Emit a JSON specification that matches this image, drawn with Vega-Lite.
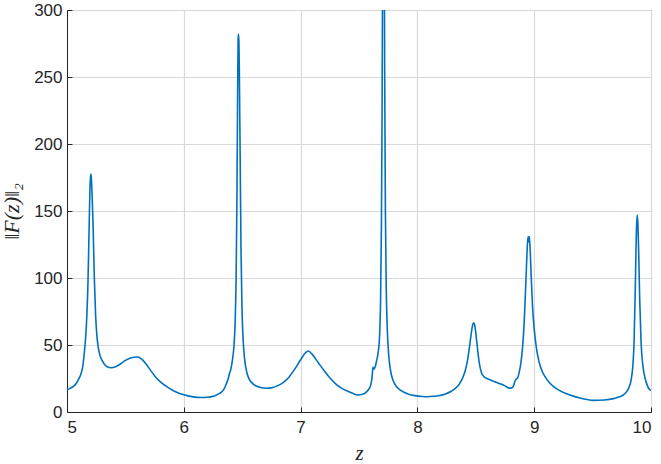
{
  "$schema": "https://vega.github.io/schema/vega-lite/v6.json",
  "width": 584,
  "height": 402,
  "autosize": {"type": "none"},
  "padding": {"left": 67, "top": 10, "right": 10, "bottom": 52},
  "background": "white",
  "config": {
    "view": {"stroke": "#262626", "strokeWidth": 1},
    "axis": {
      "labelFont": "Liberation Sans",
      "labelFontSize": 17,
      "labelColor": "#262626",
      "domainColor": "#262626",
      "tickColor": "#262626",
      "gridColor": "#d9d9d9",
      "gridWidth": 1.2,
      "gridOpacity": 1
    }
  },
  "data": {
    "values": [
      {"z": 5.00, "F": 16.5}, {"z": 5.03, "F": 17.8}, {"z": 5.06, "F": 19.5}, {"z": 5.08, "F": 21.5},
      {"z": 5.10, "F": 24.5}, {"z": 5.12, "F": 28.5}, {"z": 5.135, "F": 34}, {"z": 5.148, "F": 44},
      {"z": 5.16, "F": 56}, {"z": 5.17, "F": 72}, {"z": 5.18, "F": 98}, {"z": 5.19, "F": 140},
      {"z": 5.197, "F": 168}, {"z": 5.203, "F": 177.5}, {"z": 5.208, "F": 175}, {"z": 5.215, "F": 162},
      {"z": 5.223, "F": 140}, {"z": 5.234, "F": 100}, {"z": 5.245, "F": 72}, {"z": 5.259, "F": 54},
      {"z": 5.28, "F": 43}, {"z": 5.30, "F": 38.5}, {"z": 5.34, "F": 34}, {"z": 5.38, "F": 33},
      {"z": 5.42, "F": 34}, {"z": 5.46, "F": 36}, {"z": 5.50, "F": 38.5}, {"z": 5.55, "F": 40.5},
      {"z": 5.60, "F": 41}, {"z": 5.64, "F": 39.5}, {"z": 5.68, "F": 35.5}, {"z": 5.72, "F": 30.5},
      {"z": 5.76, "F": 26}, {"z": 5.80, "F": 22.5}, {"z": 5.86, "F": 18.5}, {"z": 5.92, "F": 15.5},
      {"z": 6.00, "F": 12.8}, {"z": 6.08, "F": 11.3}, {"z": 6.14, "F": 10.8}, {"z": 6.20, "F": 11},
      {"z": 6.26, "F": 12}, {"z": 6.31, "F": 14}, {"z": 6.34, "F": 16.5}, {"z": 6.367, "F": 21.6},
      {"z": 6.385, "F": 26.5}, {"z": 6.39, "F": 28.5}, {"z": 6.40, "F": 31}, {"z": 6.415, "F": 38},
      {"z": 6.43, "F": 50}, {"z": 6.44, "F": 68}, {"z": 6.448, "F": 100}, {"z": 6.455, "F": 160},
      {"z": 6.461, "F": 240}, {"z": 6.465, "F": 278}, {"z": 6.468, "F": 282}, {"z": 6.472, "F": 276},
      {"z": 6.476, "F": 250}, {"z": 6.482, "F": 195}, {"z": 6.49, "F": 120}, {"z": 6.498, "F": 78},
      {"z": 6.508, "F": 54}, {"z": 6.52, "F": 40}, {"z": 6.54, "F": 29.5}, {"z": 6.56, "F": 24.5},
      {"z": 6.60, "F": 20.5}, {"z": 6.65, "F": 18.5}, {"z": 6.71, "F": 17.7}, {"z": 6.75, "F": 18},
      {"z": 6.80, "F": 19.5}, {"z": 6.85, "F": 22}, {"z": 6.90, "F": 26}, {"z": 6.95, "F": 32},
      {"z": 7.00, "F": 39}, {"z": 7.04, "F": 44}, {"z": 7.066, "F": 45.5}, {"z": 7.10, "F": 43},
      {"z": 7.15, "F": 37}, {"z": 7.20, "F": 31}, {"z": 7.25, "F": 25.5}, {"z": 7.30, "F": 21},
      {"z": 7.35, "F": 17.8}, {"z": 7.42, "F": 15}, {"z": 7.49, "F": 12.7}, {"z": 7.53, "F": 13.2},
      {"z": 7.57, "F": 15.5}, {"z": 7.60, "F": 20}, {"z": 7.612, "F": 26}, {"z": 7.62, "F": 33.5},
      {"z": 7.628, "F": 32}, {"z": 7.636, "F": 33}, {"z": 7.65, "F": 38}, {"z": 7.665, "F": 45},
      {"z": 7.677, "F": 58}, {"z": 7.685, "F": 85}, {"z": 7.692, "F": 140}, {"z": 7.698, "F": 230},
      {"z": 7.703, "F": 360}, {"z": 7.709, "F": 500}, {"z": 7.715, "F": 380}, {"z": 7.72, "F": 250},
      {"z": 7.726, "F": 150}, {"z": 7.733, "F": 95}, {"z": 7.743, "F": 60}, {"z": 7.755, "F": 42},
      {"z": 7.77, "F": 31}, {"z": 7.79, "F": 24}, {"z": 7.82, "F": 19}, {"z": 7.86, "F": 16},
      {"z": 7.92, "F": 13.5}, {"z": 7.98, "F": 12.2}, {"z": 8.04, "F": 11.6}, {"z": 8.08, "F": 11.4},
      {"z": 8.14, "F": 11.7}, {"z": 8.19, "F": 12.3}, {"z": 8.24, "F": 13.5}, {"z": 8.29, "F": 15.5},
      {"z": 8.33, "F": 18}, {"z": 8.36, "F": 21}, {"z": 8.39, "F": 26}, {"z": 8.41, "F": 31},
      {"z": 8.43, "F": 39}, {"z": 8.445, "F": 48}, {"z": 8.46, "F": 58}, {"z": 8.472, "F": 64.5},
      {"z": 8.482, "F": 66.5}, {"z": 8.49, "F": 65}, {"z": 8.50, "F": 59}, {"z": 8.51, "F": 51},
      {"z": 8.52, "F": 43}, {"z": 8.535, "F": 34}, {"z": 8.55, "F": 29}, {"z": 8.57, "F": 26.3},
      {"z": 8.60, "F": 24.8}, {"z": 8.65, "F": 23}, {"z": 8.70, "F": 21.3}, {"z": 8.75, "F": 19.5},
      {"z": 8.78, "F": 18}, {"z": 8.80, "F": 17.8}, {"z": 8.82, "F": 19}, {"z": 8.835, "F": 23},
      {"z": 8.845, "F": 24.5}, {"z": 8.855, "F": 25}, {"z": 8.87, "F": 29}, {"z": 8.885, "F": 36},
      {"z": 8.90, "F": 48}, {"z": 8.915, "F": 68}, {"z": 8.93, "F": 100}, {"z": 8.942, "F": 125},
      {"z": 8.948, "F": 131}, {"z": 8.953, "F": 127}, {"z": 8.958, "F": 131}, {"z": 8.965, "F": 122},
      {"z": 8.975, "F": 100}, {"z": 8.985, "F": 80}, {"z": 9.00, "F": 62}, {"z": 9.017, "F": 49},
      {"z": 9.04, "F": 38}, {"z": 9.07, "F": 30}, {"z": 9.10, "F": 25.5}, {"z": 9.135, "F": 21.4},
      {"z": 9.18, "F": 18}, {"z": 9.24, "F": 15}, {"z": 9.30, "F": 12.8}, {"z": 9.40, "F": 10.2},
      {"z": 9.506, "F": 8.7}, {"z": 9.60, "F": 9}, {"z": 9.68, "F": 10}, {"z": 9.73, "F": 11.3},
      {"z": 9.763, "F": 12.8}, {"z": 9.79, "F": 15}, {"z": 9.81, "F": 18}, {"z": 9.83, "F": 24},
      {"z": 9.845, "F": 35}, {"z": 9.855, "F": 52}, {"z": 9.866, "F": 95}, {"z": 9.875, "F": 135},
      {"z": 9.882, "F": 147}, {"z": 9.888, "F": 140}, {"z": 9.895, "F": 118}, {"z": 9.903, "F": 85},
      {"z": 9.915, "F": 52}, {"z": 9.93, "F": 35}, {"z": 9.95, "F": 25}, {"z": 9.97, "F": 19.5},
      {"z": 9.985, "F": 17}, {"z": 10.00, "F": 16}
    ]
  },
  "mark": {"type": "line", "color": "#0072BD", "strokeWidth": 1.6, "clip": true, "interpolate": "monotone"},
  "encoding": {
    "x": {
      "field": "z",
      "type": "quantitative",
      "scale": {"domain": [5, 10], "nice": false, "zero": false},
      "axis": {
        "values": [5, 6, 7, 8, 9, 10],
        "tickSize": -5,
        "labelPadding": 12,
        "title": "z",
        "titleFont": "Liberation Serif",
        "titleFontStyle": "italic",
        "titleFontWeight": "normal",
        "titleFontSize": 21,
        "titleColor": "#262626",
        "titlePadding": 7
      }
    },
    "y": {
      "field": "F",
      "type": "quantitative",
      "scale": {"domain": [0, 300], "nice": false},
      "axis": {
        "values": [0, 50, 100, 150, 200, 250, 300],
        "tickSize": -5,
        "labelPadding": 10,
        "title": "‖F(z)‖₂",
        "titleFont": "Liberation Serif",
        "titleFontStyle": "italic",
        "titleFontWeight": "normal",
        "titleFontSize": 22,
        "titleColor": "#262626",
        "titlePadding": 10
      }
    }
  }
}
